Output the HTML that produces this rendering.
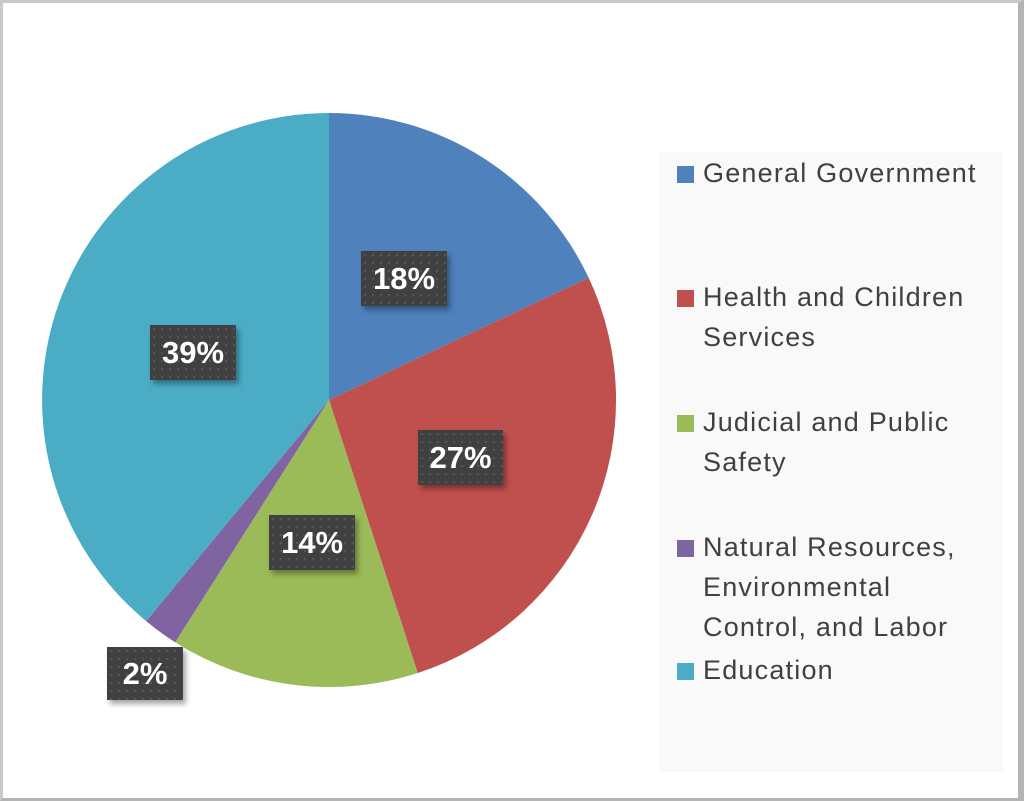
<!DOCTYPE html>
<html><head><style>
html,body{margin:0;padding:0;background:#fff;}
body{width:1024px;height:801px;position:relative;overflow:hidden;font-family:"Liberation Sans",sans-serif;}
.frame{position:absolute;left:0;top:0;border:3px solid #c8c8c8;border-right:6px solid #b4b4b4;border-bottom:3px solid #b4b4b4;box-sizing:border-box;width:1024px;height:801px;}
.legend{position:absolute;left:659px;top:152px;width:344px;height:620px;background:#f9f9f9;}
.li{position:absolute;left:703px;font-size:27px;color:#404040;line-height:40px;letter-spacing:1.2px;white-space:nowrap;}
.sq{position:absolute;left:677px;width:17px;height:17px;}
.lab{position:absolute;background:#404040;color:#fff;font-weight:bold;font-size:31px;text-align:center;box-shadow:3px 4px 5px rgba(0,0,0,0.35);
background-image:radial-gradient(#555 1.2px,transparent 1.3px);background-size:8px 8px;}
</style></head><body>
<div class="frame"></div>
<svg width="1024" height="801" style="position:absolute;left:0;top:0">
<path d="M329,400 L329,113 A287,287 0 0 1 588.7,277.8 Z" fill="#4f81bd"/>
<path d="M329,400 L588.7,277.8 A287,287 0 0 1 417.7,673 Z" fill="#c0504d"/>
<path d="M329,400 L417.7,673 A287,287 0 0 1 175.2,642.3 Z" fill="#9bbb59"/>
<path d="M329,400 L175.2,642.3 A287,287 0 0 1 146.1,621.1 Z" fill="#8064a2"/>
<path d="M329,400 L146.1,621.1 A287,287 0 0 1 329,113 Z" fill="#4bacc6"/>
</svg>
<div class="lab" style="left:361px;top:251px;width:86px;height:55px;line-height:55px">18%</div>
<div class="lab" style="left:418px;top:430px;width:85px;height:55px;line-height:55px">27%</div>
<div class="lab" style="left:269px;top:515px;width:86px;height:55px;line-height:55px">14%</div>
<div class="lab" style="left:150px;top:325px;width:86px;height:55px;line-height:55px">39%</div>
<div class="lab" style="left:107px;top:647px;width:76px;height:53px;line-height:53px">2%</div>
<div class="legend"></div>
<div class="sq" style="top:166px;background:#4f81bd"></div>
<div class="li" style="top:153px">General Government</div>
<div class="sq" style="top:290px;background:#c0504d"></div>
<div class="li" style="top:277px">Health and Children<br>Services</div>
<div class="sq" style="top:415px;background:#9bbb59"></div>
<div class="li" style="top:402px">Judicial and Public<br>Safety</div>
<div class="sq" style="top:540px;background:#8064a2"></div>
<div class="li" style="top:527px">Natural Resources,<br>Environmental<br>Control, and Labor</div>
<div class="sq" style="top:663px;background:#4bacc6"></div>
<div class="li" style="top:650px">Education</div>
</body></html>
